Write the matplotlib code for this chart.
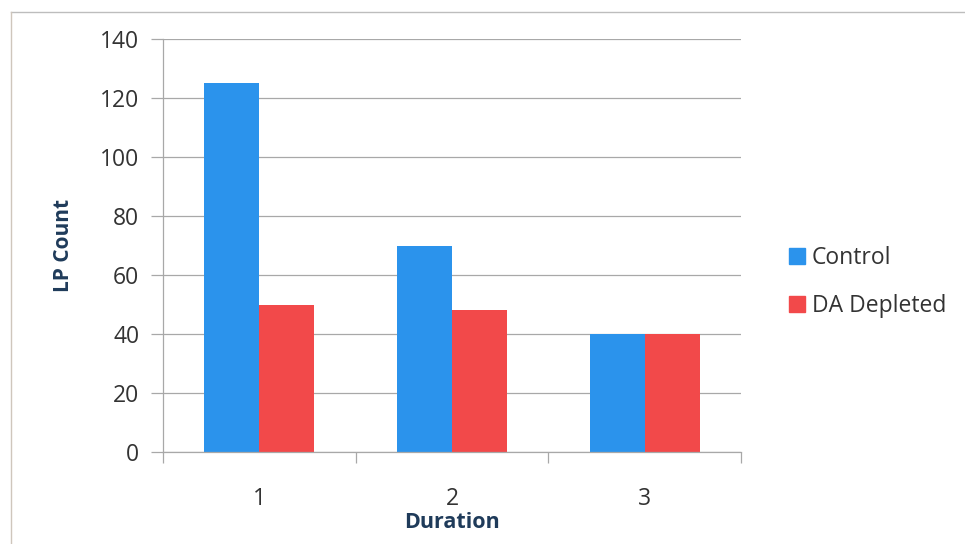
import matplotlib
matplotlib.use("Agg")
import matplotlib.pyplot as plt
import numpy as np
from matplotlib.lines import Line2D
from matplotlib.patches import Patch

durations = ["1", "2", "3"]
control = [125, 70, 40]
da_depleted = [50, 48, 40]
series_names = ["Control", "DA Depleted"]

BLUE = "#2B93EC"
RED = "#F2494A"
GRID = "#A8A8A8"

plt.rcParams["font.family"] = ["Open Sans", "DejaVu Sans"]

fig = plt.figure(figsize=(9.65, 5.44), dpi=100)
ax = fig.add_axes([0.1689, 0.1691, 0.599, 0.7592])

x = np.arange(1, len(durations) + 1)
w = 1 / 3.5
ax.bar(x - w / 2, control, width=w, color=BLUE, label=series_names[0], zorder=2)
ax.bar(x + w / 2, da_depleted, width=w, color=RED, label=series_names[1], zorder=2)

ax.set_xlim(0.5, 3.5)
ax.set_ylim(0, 140)
ax.set_yticks(np.arange(0, 141, 20))
ax.yaxis.grid(True, color=GRID, linewidth=0.9, zorder=0)
ax.set_axisbelow(True)

# category ticks sit between groups, labels centred under them
ax.set_xticks([0.5, 1.5, 2.5, 3.5])
ax.set_xticklabels([])
ax.set_xticks(x, minor=True)
ax.set_xticklabels(durations, minor=True)
ax.tick_params(axis="x", which="minor", length=0, pad=25)
ax.tick_params(axis="x", which="major", length=8, color=GRID, width=0.9)
ax.tick_params(axis="y", length=9, color=GRID, width=0.9, pad=8)
ax.tick_params(which="both", labelsize=16.5, labelcolor="#333333")

for s in ("top", "right"):
    ax.spines[s].set_visible(False)
for s in ("left", "bottom"):
    ax.spines[s].set_color(GRID)
    ax.spines[s].set_linewidth(0.9)

ax.set_xlabel("Duration", fontsize=15.5, fontweight="bold", color="#1F3B5A", labelpad=1)
ax.set_ylabel("LP Count", fontsize=15, fontweight="bold", color="#1F3B5A", labelpad=19)

handles = [Patch(color=BLUE), Patch(color=RED)]
fig.legend(handles, series_names, loc="center left", bbox_to_anchor=(0.796, 0.482),
           frameon=False, fontsize=16.5, handlelength=0.7, handleheight=0.7,
           handletextpad=0.3, labelspacing=1.05, labelcolor="#333333")

# outer chart frame, top and left edges
fig.add_artist(Line2D([11 / 965, 1], [1 - 12 / 544] * 2, color="#BDBDBD", lw=1))
fig.add_artist(Line2D([11 / 965] * 2, [0, 1 - 12 / 544], color="#CFC6BC", lw=1))

fig.savefig("out.png", dpi=100)
